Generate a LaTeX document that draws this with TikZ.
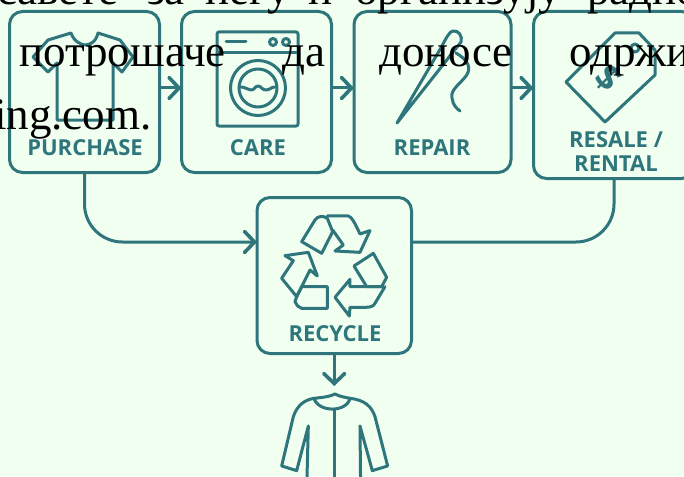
\documentclass[tikz,border=0pt]{standalone}
\usepackage{fontspec}
\setmainfont{Liberation Serif}
\newfontfamily\labelfont{Open Sans}
\usetikzlibrary{arrows.meta}
\definecolor{bgHoney}{HTML}{F0FFF0}
\definecolor{ecoTeal}{HTML}{2F757C}

\begin{document}
\begin{tikzpicture}[x=1pt,y=-1pt,
  stage/.style={draw=ecoTeal, line width=3pt, rounded corners=13pt, outer sep=0pt, inner sep=0pt},
  stagelabel/.style={text=ecoTeal, font=\labelfont\bfseries\fontsize{22}{24}\selectfont, align=center, inner sep=0pt},
  flow/.style={draw=ecoTeal, line width=3pt, -{Straight Barb[length=10pt,width=21pt,line width=3.6pt,line cap=round]}},
  icon/.style={draw=ecoTeal, line width=3pt, line join=round, line cap=round},
  overlay text/.style={anchor=base west, inner sep=0pt, font=\fontsize{45}{54}\selectfont}]
\useasboundingbox (0,0) rectangle (684,476);
\clip (0,0) rectangle (684,476);
\fill[bgHoney] (0,0) rectangle (684,476);
% stages
\node[stage, minimum width=150pt, minimum height=161pt] (purchase) at (84.5,92) {};
\node[stage, minimum width=150pt, minimum height=161pt] (care) at (256.5,92) {};
\node[stage, minimum width=157pt, minimum height=161pt] (repair) at (432.5,92) {};
\node[stage, minimum width=161pt, minimum height=167pt] (resale) at (614,95) {};
\node[stage, minimum width=154.5pt, minimum height=156pt] (recycle) at (334.25,275.5) {};
\node[stagelabel] (purchaselabel) at (85,148) {PURCHASE};
\node[stagelabel] (carelabel) at (258,148) {CARE};
\node[stagelabel] (repairlabel) at (432,148) {REPAIR};
\node[stagelabel] (resalelabel) at (616,152) {RESALE /\\RENTAL};
\node[stagelabel] (recyclelabel) at (335,334) {RECYCLE};
% connectors
\coordinate (rowflow) at (0,88);
\coordinate (mergeflow) at (0,242);
\coordinate (garment) at (334.25,386);
\draw[flow] (purchase.east |- rowflow) -- (care.west |- rowflow);
\draw[flow] (care.east |- rowflow) -- (repair.west |- rowflow);
\draw[flow] (repair.east |- rowflow) -- (resale.west |- rowflow);
\draw[flow, rounded corners=38pt] (purchase.south) |- (recycle.west |- mergeflow);
\draw[draw=ecoTeal, line width=3pt, rounded corners=38pt] (resale.south) |- (recycle.east |- mergeflow);
\draw[flow] (recycle.south) -- (garment);
% shirt
\draw[icon] (71,33) .. controls (74,42) and (82,45) .. (85,45) .. controls (90,45) and (96,42) .. (98,33)
  -- (120,40) -- (133,57) -- (122,72) -- (113,63) -- (113,120) -- (57,120) -- (57,63) -- (48,72)
  -- (33,57) -- (48,40) -- cycle;
% washer
\draw[icon, rounded corners=2pt] (217,32) rectangle (298,126);
\draw[icon] (217,53) -- (298,53);
\draw[icon] (226,42) -- (246,42);
\draw[icon] (273,42) circle (3.5) (286,42) circle (3.5);
\draw[icon] (258,88) circle (27.5) (258,88) circle (19);
\draw[icon] (241,87) .. controls (246,87) and (247,90) .. (251,90) .. controls (255,90) and (255,86) .. (258,86)
  .. controls (261,86) and (262,90) .. (266,90) .. controls (270,90) and (271,87) .. (275,87);
% needle
\draw[icon] (397,123) -- (442,46) .. controls (446,38) and (450,31) .. (453,31)
  .. controls (458,30) and (463,36) .. (461,42) -- cycle;
\draw[icon] (456,53) .. controls (468,60) and (472,68) .. (466,76)
  .. controls (460,84) and (450,90) .. (452,98) .. controls (453,105) and (456,108) .. (460,111);
% tag
\draw[icon] (615,33) -- (639,33) -- (655,50) -- (655,75) -- (605,122) -- (566,82) -- cycle;
\draw[icon] (635,48) circle (4);
\node[text=ecoTeal, rotate=-45, inner sep=0pt, font=\labelfont\bfseries\fontsize{36}{36}\selectfont] (tagsign) at (609,78) {\$};
% recycling arrows
\begin{scope}[shift={(240,190)},x=0.3333pt,y=-0.3333pt]
\draw[icon] (185,155) -- (225,90) .. controls (232,78) and (250,76) .. (262,85) -- (278,125) -- (245,190) -- cycle;
\draw[icon] (262,78) -- (325,78) .. controls (335,80) and (345,100) .. (360,132) -- (390,122) -- (360,187) -- (285,183) -- (310,165) -- (278,120);
\draw[icon] (342,228) -- (400,190) -- (440,262) -- (425,290) -- (380,290) -- cycle;
\draw[icon] (435,290) -- (405,340) .. controls (400,350) and (390,352) .. (375,352) -- (330,352) -- (328,378) -- (285,322) -- (330,268) -- (330,290) -- (430,290);
\draw[icon] (135,197) -- (205,187) -- (232,258) -- (210,240) -- (170,320) -- (125,265) -- (160,212) -- cycle;
\draw[icon] (170,320) -- (185,290) -- (262,290) -- (262,355) -- (185,355) .. controls (175,352) and (168,345) .. (165,335) -- cycle;
% coat
\draw[icon] (222,625) .. controls (250,622) and (270,620) .. (285,612) .. controls (300,620) and (315,622) .. (330,625)
  .. controls (320,668) and (235,668) .. (222,625);
\draw[icon] (283,660) -- (283,900);
\draw[icon] (222,625) .. controls (190,630) and (170,650) .. (160,680) -- (125,828) -- (170,842) -- (205,708) -- (200,900);
\draw[icon] (330,625) .. controls (375,630) and (395,650) .. (405,680) -- (443,828) -- (397,842) -- (360,708) -- (362,900);
\end{scope}
% text laid over the picture
\node[overlay text] (wordone) at (-3,5) {савете};
\node[overlay text] (wordtwo) at (147,5) {за};
\node[overlay text] (wordthree) at (205,5) {негу};
\node[overlay text] (wordfour) at (308,5) {и};
\node[overlay text] (wordfive) at (355,5) {организују};
\node[overlay text] (wordsix) at (587,5) {радио};
\node[overlay text] (wordseven) at (19,67) {потрошаче};
\node[overlay text] (wordeight) at (282,67) {да};
\node[overlay text] (wordnine) at (379,67) {доносе};
\node[overlay text] (wordten) at (569,67) {одржи};
\node[overlay text] (wordeleven) at (-6,129) {ing.com.};
\end{tikzpicture}
\end{document}
